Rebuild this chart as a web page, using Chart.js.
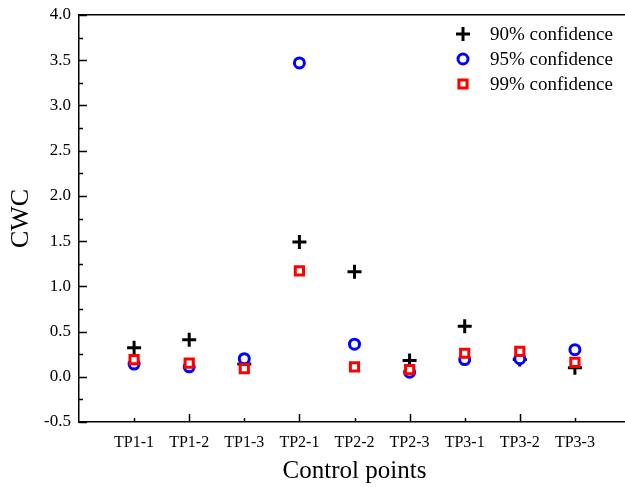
<!DOCTYPE html>
<html>
<head>
<meta charset="utf-8">
<script src="https://cdn.jsdelivr.net/npm/chart.js@4"></script>
<style>
  html, body { margin: 0; padding: 0; background: #fff; overflow: hidden; }
  #wrap { width: 640px; height: 487px; }
</style>
</head>
<body>
<div id="wrap"><canvas id="grafico" width="640" height="487"></canvas></div>
<script>
// categorias del eje x
const puntos = ['TP1-1', 'TP1-2', 'TP1-3', 'TP2-1', 'TP2-2', 'TP2-3', 'TP3-1', 'TP3-2', 'TP3-3'];
// valores CWC por nivel de confianza
const conf90 = [0.32, 0.41, 0.14, 1.49, 1.16, 0.18, 0.56, 0.19, 0.10];
const conf95 = [0.14, 0.11, 0.20, 3.47, 0.36, 0.05, 0.19, 0.20, 0.30];
const conf99 = [0.19, 0.15, 0.09, 1.17, 0.11, 0.08, 0.26, 0.28, 0.16];
const yTicks = [-0.5, 0.0, 0.5, 1.0, 1.5, 2.0, 2.5, 3.0, 3.5, 4.0];

const fuente = 'Liberation Serif';

function aPuntos(arr) {
    return arr.map((v, i) => ({ x: i + 1, y: v }));
}

const datos1 = {
    label: '90% confidence',
    data: aPuntos(conf90),
    pointStyle: 'cross',
    pointRadius: 7,
    pointBorderWidth: 3,
    borderColor: '#000',
    backgroundColor: '#000',
    showLine: false,
    order: 3
};
const datos2 = {
    label: '95% confidence',
    data: aPuntos(conf95),
    pointStyle: 'circle',
    pointRadius: 5,
    pointBorderWidth: 3,
    borderColor: '#0000ff',
    backgroundColor: '#fff',
    showLine: false,
    order: 2
};
const datos3 = {
    label: '99% confidence',
    data: aPuntos(conf99),
    pointStyle: 'rect',
    pointRadius: 5.8,
    pointBorderWidth: 3,
    borderColor: '#ff0000',
    backgroundColor: '#fff',
    showLine: false,
    order: 1
};

// ticks hacia dentro (mayores y menores), como en Origin
const ticksDentro = {
    id: 'ticksDentro',
    afterDatasetsDraw(chart) {
        const ctx = chart.ctx;
        const xs = chart.scales.x;
        const ys = chart.scales.y;
        const area = chart.chartArea;
        ctx.save();
        ctx.strokeStyle = '#000';
        ctx.lineWidth = 1.5;
        ctx.beginPath();
        for (let i = 1; i <= puntos.length; i++) {
            const px = Math.round(xs.getPixelForValue(i)) + 0.5;
            const len = (i % 2 === 0) ? 8 : 4;
            ctx.moveTo(px, area.bottom);
            ctx.lineTo(px, area.bottom - len);
        }
        for (let v = -0.5; v <= 4.0001; v += 0.25) {
            const py = Math.round(ys.getPixelForValue(v)) + 0.5;
            const mayor = Math.abs(v * 2 - Math.round(v * 2)) < 0.001;
            ctx.moveTo(area.left, py);
            ctx.lineTo(area.left + (mayor ? 8 : 4), py);
        }
        ctx.stroke();
        ctx.restore();
    }
};

// leyenda dentro del area del grafico, arriba a la derecha
const leyenda = {
    id: 'leyenda',
    afterDraw(chart) {
        const ctx = chart.ctx;
        const area = chart.chartArea;
        ctx.save();
        chart.data.datasets.forEach((ds, i) => {
            const x = area.right - 167;
            const y = area.top + 19 + i * 25;
            ctx.strokeStyle = ds.borderColor;
            ctx.fillStyle = ds.backgroundColor;
            ctx.lineWidth = ds.pointBorderWidth;
            Chart.helpers.drawPoint(ctx, {
                pointStyle: ds.pointStyle,
                radius: ds.pointRadius,
                rotation: 0,
                borderWidth: ds.pointBorderWidth
            }, x, y);
            ctx.fillStyle = '#000';
            ctx.font = '19px "' + fuente + '"';
            ctx.textBaseline = 'middle';
            ctx.textAlign = 'left';
            ctx.fillText(ds.label, x + 27, y + 1);
        });
        ctx.restore();
    }
};

const config = {
    type: 'scatter',
    data: { datasets: [datos1, datos2, datos3] },
    options: {
        responsive: false,
        animation: false,
        layout: { padding: { right: 9 } },
        plugins: {
            legend: { display: false },
            tooltip: { enabled: false }
        },
        scales: {
            x: {
                type: 'linear',
                position: 'bottom',
                min: 0,
                max: 10,
                afterBuildTicks: s => { s.ticks = puntos.map((p, i) => ({ value: i + 1 })); },
                afterFit: s => { s.height = 65; s.paddingLeft = 0; s.paddingRight = 0; },
                ticks: {
                    autoSkip: false,
                    maxRotation: 0,
                    padding: 11,
                    color: '#000',
                    font: { family: fuente, size: 16 },
                    callback: v => puntos[v - 1]
                },
                grid: { drawOnChartArea: false, drawTicks: false },
                border: { display: true, color: '#000', width: 1.5 },
                title: {
                    display: true,
                    text: 'Control points',
                    color: '#000',
                    font: { family: fuente, size: 25 },
                    padding: { top: 0, bottom: 1 }
                }
            },
            xTop: {
                type: 'linear',
                position: 'top',
                min: 0,
                max: 10,
                afterFit: s => { s.height = 15; s.paddingLeft = 0; s.paddingRight = 0; },
                ticks: { display: false },
                grid: { drawOnChartArea: false, drawTicks: false },
                border: { display: true, color: '#000', width: 1.5 }
            },
            y: {
                min: -0.5,
                max: 4.0,
                afterBuildTicks: s => { s.ticks = yTicks.map(v => ({ value: v })); },
                afterFit: s => { s.width = 79; s.paddingTop = 0; s.paddingBottom = 0; },
                ticks: {
                    padding: 8,
                    color: '#000',
                    font: { family: fuente, size: 17 },
                    callback: v => Number(v).toFixed(1)
                },
                grid: { drawOnChartArea: false, drawTicks: false },
                border: { display: true, color: '#000', width: 1.5 },
                title: {
                    display: true,
                    text: 'CWC',
                    color: '#000',
                    font: { family: fuente, size: 26 },
                    padding: { top: 6, bottom: 0 }
                }
            }
        }
    },
    plugins: [ticksDentro, leyenda]
};

new Chart(document.getElementById('grafico'), config);
</script>
</body>
</html>
